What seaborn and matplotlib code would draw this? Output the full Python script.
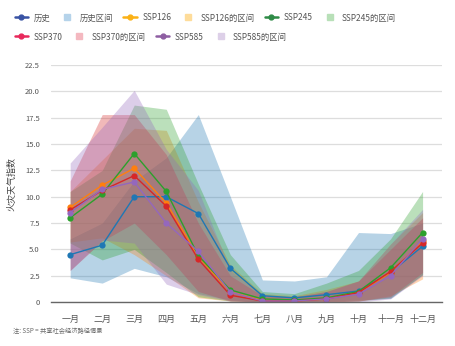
import numpy as np
import pandas as pd
import matplotlib
matplotlib.use("Agg")
import matplotlib.pyplot as plt
from matplotlib.lines import Line2D
import seaborn as sns

months = ["一月", "二月", "三月", "四月", "五月", "六月", "七月", "八月", "九月", "十月", "十一月", "十二月"]

hist = [4.5, 5.4, 10.0, 10.0, 8.4, 3.2, 0.6, 0.4, 0.7, 1.05, 2.8, 5.3]
ssp126 = [9.0, 11.1, 12.7, 9.4, 4.3, 0.95, 0.2, 0.1, 0.3, 0.9, 2.8, 5.8]
ssp245 = [8.0, 10.25, 14.1, 10.5, 4.4, 1.15, 0.3, 0.2, 0.4, 1.0, 3.25, 6.6]
ssp370 = [8.75, 10.6, 12.0, 9.1, 4.05, 0.65, 0.1, 0.1, 0.3, 0.9, 2.9, 5.6]
ssp585 = [8.5, 10.7, 11.4, 7.5, 4.8, 0.95, 0.1, 0.1, 0.3, 0.75, 2.5, 6.0]

hist_lo = [2.3, 1.8, 3.2, 2.4, 0.8, 0.2, 0.0, 0.0, 0.1, 0.2, 0.35, 2.6]
hist_hi = [6.0, 7.5, 11.5, 13.7, 17.8, 10.0, 2.1, 2.0, 2.4, 6.6, 6.5, 7.5]
ssp126_lo = [5.7, 6.1, 4.5, 2.5, 0.4, 0.1, 0.0, 0.0, 0.0, 0.1, 0.6, 2.2]
ssp126_hi = [10.5, 13.5, 16.5, 16.3, 9.5, 3.5, 0.8, 0.6, 1.2, 2.0, 5.5, 8.5]
ssp245_lo = [5.6, 4.0, 5.0, 2.8, 0.5, 0.1, 0.0, 0.0, 0.0, 0.1, 0.4, 2.6]
ssp245_hi = [10.5, 12.5, 18.7, 18.3, 11.2, 4.5, 1.0, 0.8, 1.8, 3.0, 6.0, 10.5]
ssp370_lo = [3.0, 5.8, 7.5, 4.5, 1.0, 0.1, 0.0, 0.0, 0.0, 0.1, 0.5, 2.8]
ssp370_hi = [11.5, 17.8, 17.8, 14.0, 7.5, 2.5, 0.6, 0.5, 1.0, 2.0, 5.0, 8.0]
ssp585_lo = [3.0, 5.9, 5.6, 1.7, 0.7, 0.1, 0.0, 0.0, 0.0, 0.0, 0.3, 2.5]
ssp585_hi = [13.2, 16.6, 20.1, 14.5, 10.6, 3.0, 0.6, 0.5, 1.0, 2.0, 5.5, 8.8]

series_names = ["历史", "SSP126", "SSP245", "SSP370", "SSP585"]
band_names = ["历史区间", "SSP126的区间", "SSP245的区间", "SSP370的区间", "SSP585的区间"]
line_colors = ["#1f77b4", "#ff7f0e", "#2ca02c", "#d62728", "#9467bd"]
legend_line_colors = ["#3953a4", "#fbb116", "#2e8b46", "#e8295c", "#8e5ea2"]
legend_band_colors = ["#b5d3ea", "#fedc9a", "#b8e0b8", "#f4b8c0", "#ddd0e8"]

values = [hist, ssp126, ssp245, ssp370, ssp585]
lows = [hist_lo, ssp126_lo, ssp245_lo, ssp370_lo, ssp585_lo]
highs = [hist_hi, ssp126_hi, ssp245_hi, ssp370_hi, ssp585_hi]

sns.set_theme(style="white")
plt.rcParams["font.family"] = ["Noto Sans CJK SC", "DejaVu Sans"]

fig = plt.figure(figsize=(4.55, 3.46), dpi=100)
ax = fig.add_axes([0.112, 0.127, 0.859, 0.685])

x = np.arange(len(months))
for lo, hi, c in zip(lows, highs, line_colors):
    ax.fill_between(x, lo, hi, color=c, alpha=0.32, linewidth=0)

df = pd.concat([
    pd.DataFrame({"month": x, "value": v, "series": n})
    for v, n in zip(values, series_names)
])
sns.lineplot(data=df, x="month", y="value", hue="series", hue_order=series_names,
             palette=line_colors, marker="o", markersize=4.5, markeredgewidth=0,
             linewidth=1.0, ax=ax, legend=False)

ax.set_xlim(-0.6, 11.6)
ax.set_ylim(0, 22.5)
yt = np.arange(0, 22.6, 2.5)
ax.set_yticks(yt)
ax.set_yticklabels(["0"] + [f"{v:.1f}" for v in yt[1:]], fontsize=5.5, color="#555555")
ax.set_xticks(x)
ax.set_xticklabels(months, fontsize=6.5, color="#555555")
ax.tick_params(axis="both", length=0, pad=8)
ax.tick_params(axis="x", pad=9)
ax.grid(axis="y", color="#dddddd", linewidth=0.9)
ax.set_axisbelow(True)
for s in ["top", "right", "left"]:
    ax.spines[s].set_visible(False)
ax.spines["bottom"].set_color("#666666")
ax.spines["bottom"].set_linewidth(1.0)
ax.set_xlabel("")
ax.set_ylabel("火灾天气指数", fontsize=6.5, color="#444444", labelpad=6)

def lh(c):
    return Line2D([], [], color=c, marker="o", markersize=3.5, linewidth=1.8)

def bh(c):
    return Line2D([], [], color=c, marker="s", markersize=5, linewidth=0)

row1_h = [lh(legend_line_colors[0]), bh(legend_band_colors[0]),
          lh(legend_line_colors[1]), bh(legend_band_colors[1]),
          lh(legend_line_colors[2]), bh(legend_band_colors[2])]
row1_l = [series_names[0], band_names[0], series_names[1], band_names[1], series_names[2], band_names[2]]
row2_h = [lh(legend_line_colors[3]), bh(legend_band_colors[3]),
          lh(legend_line_colors[4]), bh(legend_band_colors[4])]
row2_l = [series_names[3], band_names[3], series_names[4], band_names[4]]

leg_kw = dict(frameon=False, fontsize=6, handlelength=1.6, handleheight=0.8,
              handletextpad=0.7, columnspacing=1.2, borderaxespad=0, labelcolor="#555555")
l1 = fig.legend(row1_h, row1_l, ncol=6, loc="center left", bbox_to_anchor=(0.025, 0.948), **leg_kw)
l2 = fig.legend(row2_h, row2_l, ncol=4, loc="center left", bbox_to_anchor=(0.025, 0.893), **leg_kw)

fig.text(0.028, 0.037, "注: SSP = 共享社会经济路径情景", fontsize=4.5, color="#666666")

fig.savefig("out.png", dpi=100)
